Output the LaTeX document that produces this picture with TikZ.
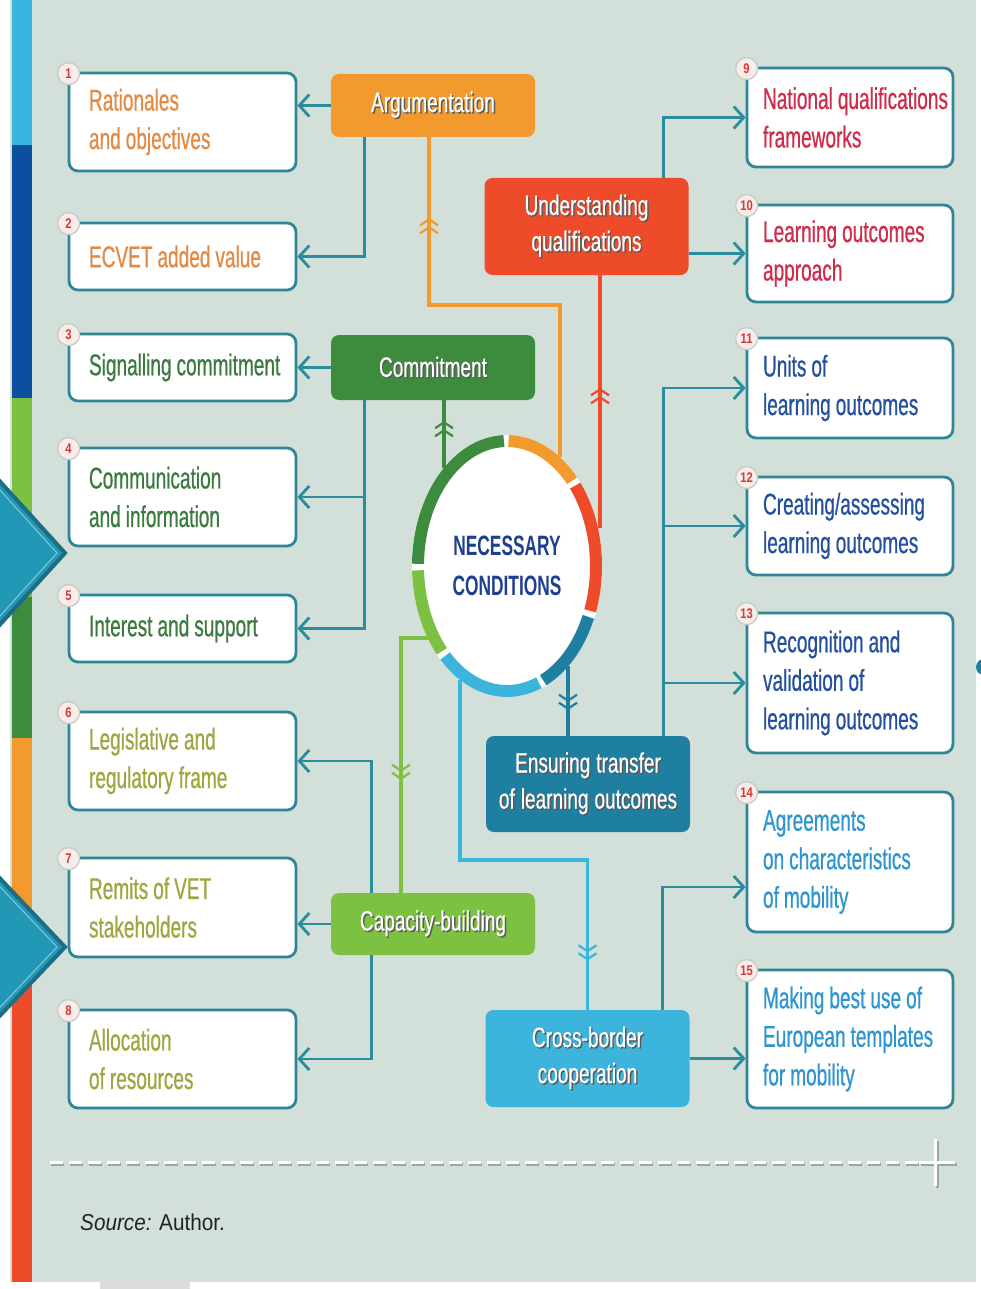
\documentclass[tikz,border=0pt]{standalone}
\usepackage{fontspec}
\setmainfont{Liberation Sans}
\newfontfamily\boxfont{Liberation Sans}[FakeStretch=0.635, FakeBold=0.6]
\newfontfamily\catfont{Liberation Sans}[FakeStretch=0.68, FakeBold=0.5]
\newfontfamily\srcfont{Liberation Sans}[FakeStretch=0.9]
\newfontfamily\ncfont{Liberation Sans}[FakeStretch=0.62]
\newfontfamily\numfont{Liberation Sans}[FakeStretch=0.8]
\usetikzlibrary{arrows.meta,shapes.geometric,calc,decorations.markings}
\hyphenpenalty=10000
\exhyphenpenalty=10000
\lefthyphenmin=62
\definecolor{bgc}{HTML}{D3DFD9}
\definecolor{tabc}{HTML}{DCDCDC}
\definecolor{boxc}{HTML}{2E8797}
\definecolor{connc}{HTML}{2B8C9E}
\definecolor{argc}{HTML}{F39A2E}
\definecolor{uqc}{HTML}{EE4B2A}
\definecolor{comc}{HTML}{3D8B3D}
\definecolor{ensc}{HTML}{1F7FA1}
\definecolor{capc}{HTML}{7DC143}
\definecolor{cbc}{HTML}{3CB4DC}
\definecolor{txtor}{HTML}{E38A44}
\definecolor{txtgr}{HTML}{3C7A40}
\definecolor{txtol}{HTML}{A0A63F}
\definecolor{txtcr}{HTML}{D02C4B}
\definecolor{txtdb}{HTML}{24509D}
\definecolor{txtmb}{HTML}{2E95CF}
\definecolor{ncc}{HTML}{1F3F8F}
\definecolor{numc}{HTML}{D7373A}
\definecolor{badgef}{HTML}{F6ECE8}
\definecolor{badged}{HTML}{C9C9C9}
\definecolor{barlb}{HTML}{38B6E0}
\definecolor{bardb}{HTML}{0C4F9F}
\definecolor{dmf}{HTML}{2398B6}
\definecolor{dmd}{HTML}{1C6E84}
\definecolor{dml}{HTML}{7CCBDD}
\definecolor{shadowc}{HTML}{5A5A5A}
\definecolor{dashsh}{HTML}{9AA8A2}
\definecolor{srcc}{HTML}{222222}
\newcommand\shd[1]{\leavevmode\rlap{\kern1.4pt\raisebox{-1.4pt}{\color{shadowc}#1}}#1}
\begin{document}
\begin{tikzpicture}[x=1pt,y=-1pt,
  box/.style={draw=boxc, line width=2.8pt, fill=white, rounded corners=9pt, align=left, font=\boxfont\fontsize{30}{38.5}\selectfont, execute at begin node={\spaceskip=5pt\relax}},
  lbox/.style={box, text width=187pt, inner xsep=20pt, minimum width=227pt},
  rbox/.style={box, text width=174pt, inner xsep=16pt, minimum width=206pt},
  cat/.style={rounded corners=8pt, minimum width=204pt, text=white, align=center, font=\catfont\fontsize{28}{36}\selectfont, inner sep=0pt, execute at begin node={\spaceskip=6pt\relax}},
  badge/.style={circle, fill=badgef, draw=badged, line width=1.3pt, minimum size=22pt, inner sep=0pt, text=numc, font=\numfont\bfseries\fontsize{14}{14}\selectfont},
  conn/.style={draw=connc, line width=2.8pt, -{Straight Barb[length=10pt,width=22pt]}},
  fline/.style={line width=3.8pt},
  ringseg/.style={line width=12pt},
  chevs/.style 2 args={postaction={decorate, decoration={markings,
     mark=at position #1 with {\arrow{Straight Barb[length=6pt,width=18pt,line width=2.2pt]}},
     mark=at position #2 with {\arrow{Straight Barb[length=6pt,width=18pt,line width=2.2pt]}}}}}
]
\useasboundingbox (0,0) rectangle (981,1289);
\fill[white] (0,0) rectangle (981,1289);
\fill[bgc] (10,0) rectangle (976,1282);
\fill[tabc] (100,1282) rectangle (190,1289);
% left colour bar
\fill[barlb] (12,0) rectangle (32,145);
\fill[bardb] (12,145) rectangle (32,398);
\fill[capc] (12,398) rectangle (32,597);
\fill[comc] (12,597) rectangle (32,738);
\fill[argc] (12,738) rectangle (32,980);
\fill[uqc] (12,980) rectangle (32,1282);
% diamonds
\filldraw[fill=dmf, draw=dmd, line width=4pt, line join=miter] (-20,459.5) -- (65,553) -- (-20,646.5) -- cycle;
\draw[dml, line width=1pt] (-20,468) -- (57,553) -- (-20,638);
\filldraw[fill=dmf, draw=dmd, line width=4pt, line join=miter] (-20,857.4) -- (65,947) -- (-20,1036.6) -- cycle;
\draw[dml, line width=1pt] (-20,865.6) -- (57,947) -- (-20,1028.4);
\fill[ensc] (984,667) circle (8pt);

% centre
\node[ellipse, fill=white, minimum width=190pt, minimum height=262pt, inner sep=0pt, align=center, text=ncc, font=\ncfont\bfseries\fontsize{28}{40}\selectfont] (nc) at (507,566) {NECESSARY\\CONDITIONS};
\draw[ringseg, argc] ($(nc.center)+(89:89pt and 125pt)$) arc[start angle=89, end angle=43, x radius=89pt, y radius=125pt];
\draw[ringseg, uqc] ($(nc.center)+(40:89pt and 125pt)$) arc[start angle=40, end angle=-21, x radius=89pt, y radius=125pt];
\draw[ringseg, ensc] ($(nc.center)+(-24:89pt and 125pt)$) arc[start angle=-24, end angle=-66, x radius=89pt, y radius=125pt];
\draw[ringseg, cbc] ($(nc.center)+(-69:89pt and 125pt)$) arc[start angle=-69, end angle=-134, x radius=89pt, y radius=125pt];
\draw[ringseg, capc] ($(nc.center)+(-137:89pt and 125pt)$) arc[start angle=-137, end angle=-178, x radius=89pt, y radius=125pt];
\draw[ringseg, comc] ($(nc.center)+(179:89pt and 125pt)$) arc[start angle=179, end angle=92, x radius=89pt, y radius=125pt];

% category boxes
\node[cat, fill=argc, minimum height=63pt] (arg) at (433,105.5) {\shd{Argumentation}};
\node[cat, fill=uqc, minimum height=97pt] (uq) at (586.5,226.5) {\shd{Understanding}\\\shd{qualifications}};
\node[cat, fill=comc, minimum height=65pt] (com) at (433,367.5) {\shd{Commitment}};
\node[cat, fill=ensc, minimum height=96pt] (ens) at (588,784) {\shd{Ensuring~transfer}\\\shd{of~learning~outcomes}};
\node[cat, fill=capc, minimum height=62pt] (cap) at (433,924) {\shd{Capacity-building}};
\node[cat, fill=cbc, minimum height=97pt] (cb) at (587.5,1058.5) {\shd{Cross-border}\\\shd{cooperation}};

% left boxes
\node[lbox, text=txtor, minimum height=98pt] (b1) at (182.5,122) {Rationales\\and~objectives};
\node[lbox, text=txtor, minimum height=67pt] (b2) at (182.5,256.5) {ECVET~added~value};
\node[lbox, text=txtgr, minimum height=67pt] (b3) at (182.5,367.5) {Signalling~commitment};
\node[lbox, text=txtgr, minimum height=98pt] (b4) at (182.5,497) {Communication\\and~information};
\node[lbox, text=txtgr, minimum height=67pt] (b5) at (182.5,628.5) {Interest~and~support};
\node[lbox, text=txtol, minimum height=98pt] (b6) at (182.5,761) {Legislative~and\\regulatory~frame};
\node[lbox, text=txtol, minimum height=99pt] (b7) at (182.5,907.5) {Remits~of~VET\\stakeholders};
\node[lbox, text=txtol, minimum height=98pt] (b8) at (182.5,1059) {Allocation\\of~resources};
% right boxes
\node[rbox, text=txtcr, minimum height=99pt] (b9) at (850,117.5) {National~qualifications\\frameworks};
\node[rbox, text=txtcr, minimum height=97pt] (b10) at (850,253.5) {Learning~outcomes\\approach};
\node[rbox, text=txtdb, minimum height=100pt] (b11) at (850,388) {Units~of\\learning~outcomes};
\node[rbox, text=txtdb, minimum height=98pt] (b12) at (850,526) {Creating/assessing\\learning~outcomes};
\node[rbox, text=txtdb, minimum height=140pt] (b13) at (850,683) {Recognition~and\\validation~of\\learning~outcomes};
\node[rbox, text=txtmb, minimum height=140pt] (b14) at (850,862) {Agreements\\on~characteristics\\of~mobility};
\node[rbox, text=txtmb, minimum height=138pt] (b15) at (850,1039) {Making~best~use~of\\European~templates\\for~mobility};

% badges
\foreach \i in {1,...,15} {
  \node[badge] (n\i) at ([xshift=1pt,yshift=-2pt]b\i.north west) {\i};
}

% teal connectors
\draw[conn] (arg.west) -- (arg.west -| b1.east);
\draw[conn] ([xshift=34pt]arg.south west) |- (b2.east);
\draw[conn] (com.west) -- (com.west -| b3.east);
\coordinate (cv) at ([xshift=34pt]com.south west);
\draw[conn] (cv) |- (b5.east);
\draw[conn] (cv |- b4.east) -- (b4.east);
\draw[conn] (cap.west) -- (cap.west -| b7.east);
\draw[conn] ([xshift=41pt]cap.north west) |- (b6.east);
\draw[conn] ([xshift=41pt]cap.south west) |- (b8.east);
\draw[conn] ([xshift=-25pt]uq.north east) |- (b9.west);
\draw[conn] (b10.west -| uq.east) -- (b10.west);
\coordinate (ev) at ([xshift=-27pt]ens.north east);
\draw[conn] (ev) |- (b11.west);
\draw[conn] (ev |- b12.west) -- (b12.west);
\draw[conn] (ev |- b13.west) -- (b13.west);
\draw[conn] ([xshift=-27pt]cb.north east) |- ([yshift=-25pt]b14.west);
\draw[conn] (cb.east) -- (cb.east -| b15.west);

% coloured lines from the ring
\coordinate (oA) at (560,457);
\coordinate (rA) at (600,528);
\coordinate (gA) at (444,468);
\coordinate (lgA) at (428,638);
\coordinate (lbA) at (460,680);
\coordinate (eA) at (568,666);
\draw[fline, argc, chevs={362pt}{370pt}] (oA) -- ++(0,-152) -| ([xshift=-4pt]arg.south);
\draw[fline, uqc, chevs={132pt}{140pt}] (rA) -- (rA |- uq.south);
\draw[fline, comc, chevs={39pt}{47pt}] (gA) -- (gA |- com.south);
\draw[fline, capc, chevs={161pt}{169pt}] (lgA) -| ([xshift=-32pt]cap.north);
\draw[fline, cbc, chevs={400pt}{408pt}] (lbA) -- ++(0,180) -| (cb.north);
\draw[fline, ensc, chevs={36pt}{44pt}] (eA) -- (eA |- ens.north);

% dashed rule and plus
\draw[line width=3pt, dashsh, dash pattern=on 13pt off 6pt] (51,1164) -- (919,1164);
\draw[line width=3pt, white, dash pattern=on 13pt off 6pt] (50,1162) -- (918,1162);
\draw[line width=3pt, dashsh] (937,1141) -- (937,1188) (921,1164) -- (957,1164);
\draw[line width=3pt, white] (935,1139) -- (935,1186) (919,1162) -- (955,1162);

\node[anchor=west, inner sep=0pt, font=\srcfont\fontsize{23}{23}\selectfont, text=srcc] (src) at (80,1222) {\textit{Source:} Author.};
\end{tikzpicture}
\end{document}
